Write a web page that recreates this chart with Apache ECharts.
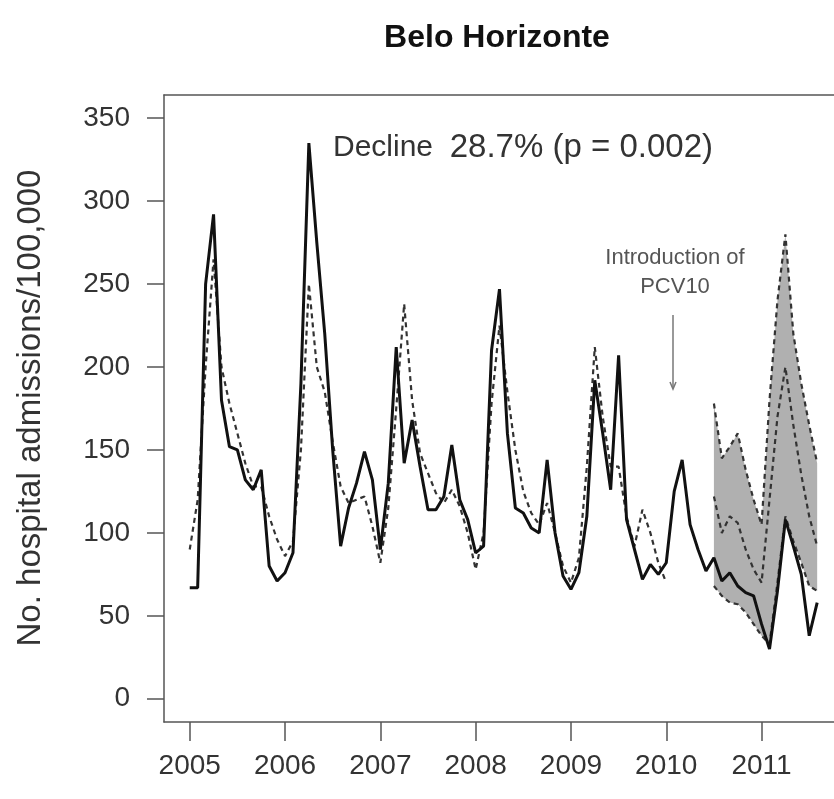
<!DOCTYPE html>
<html>
<head>
<meta charset="utf-8">
<script src="https://cdn.jsdelivr.net/npm/echarts@6/dist/echarts.min.js"></script>
<style>html,body{margin:0;padding:0;background:#fff}#c{width:834px;height:799px}</style>
</head>
<body>
<div id="c"></div>
<script>
// ---- data (monthly, starting Jan 2005) ----
const startYear = 2005;
const xTickYears = [2005, 2006, 2007, 2008, 2009, 2010, 2011];
const yTickValues = [0, 50, 100, 150, 200, 250, 300, 350];
const observed = [
  67, 67, 250, 292, 180, 152, 150, 132, 126, 138, 80, 71,
  76, 88, 190, 335, 275, 220, 150, 92, 115, 130, 149, 132,
  90, 130, 212, 142, 168, 140, 114, 114, 122, 153, 120, 108,
  88, 92, 210, 247, 160, 115, 112, 103, 100, 144, 100, 74,
  66, 76, 110, 192, 160, 126, 207, 108, 90, 72, 81, 75,
  82, 125, 144, 105, 90, 77, 85, 71, 76, 68, 64, 62,
  45, 30, 65, 108, 92, 75, 38, 58
];
const predicted = [
  90, 120, 200, 265, 200, 178, 160, 142, 128, 128, 110, 96,
  86, 95, 150, 250, 200, 185, 155, 128, 118, 120, 122, 104,
  82, 115, 175, 238, 180, 148, 136, 124, 118, 126, 116, 100,
  78, 100, 178, 225, 185, 150, 125, 112, 105, 118, 100, 80,
  70, 85, 140, 212, 170, 140, 140, 110, 92, 114, 100, 82,
  70, null, null, null, null, null, 122, 100, 110, 106, 90, 78,
  70, 120, 170, 200, 165, 135, 110, 92
];
const ciStartIndex = 66;
const upperCI = [178, 145, 152, 160, 138, 120, 105, 180, 240, 280, 220, 190, 165, 142];
const lowerCI = [68, 62, 58, 57, 52, 45, 38, 33, 70, 110, 95, 82, 68, 65];

// ---- build series data ----
const tx = i => startYear + i / 12;
const obsData = observed.map((v, i) => [tx(i), v]);
const predData = predicted.map((v, i) => [tx(i), v === null ? null : v]);
const upperData = upperCI.map((v, k) => [tx(ciStartIndex + k), v]);
const lowerData = lowerCI.map((v, k) => [tx(ciStartIndex + k), v]);

const FONT = '"Liberation Sans", Arial, Helvetica, sans-serif';
const AX = '#555';
const TXT = '#333';

const chart = echarts.init(document.getElementById('c'), null, {renderer: 'canvas'});
const dashStyle = {color: '#333', width: 2.2, type: [5, 4]};

chart.setOption({
  animation: false,
  backgroundColor: '#fff',
  grid: {left: 164, right: 0, top: 95, bottom: 77, show: false},
  xAxis: [
    {
      type: 'value', min: 2004.73, max: 2011.76, position: 'bottom',
      axisLine: {show: true, onZero: false, lineStyle: {color: AX, width: 1.5}},
      axisTick: {show: true, inside: false, length: 19, lineStyle: {color: AX, width: 1.5}, customValues: xTickYears},
      axisLabel: {show: true, margin: 30, fontFamily: FONT, fontSize: 28, color: TXT, customValues: xTickYears, formatter: v => String(Math.round(v))},
      splitLine: {show: false}
    },
    {
      type: 'value', min: 2004.73, max: 2011.76, position: 'top',
      axisLine: {show: true, onZero: false, lineStyle: {color: AX, width: 1.5}},
      axisTick: {show: false}, axisLabel: {show: false}, splitLine: {show: false}
    }
  ],
  yAxis: {
    type: 'value', min: -14, max: 364,
    axisLine: {show: true, onZero: false, lineStyle: {color: AX, width: 1.5}},
    axisTick: {show: true, inside: false, length: 17, lineStyle: {color: AX, width: 1.5}, customValues: yTickValues},
    axisLabel: {show: true, margin: 34, fontFamily: FONT, fontSize: 28, color: TXT, customValues: yTickValues},
    splitLine: {show: false}
  },
  series: [
    {
      type: 'custom', name: 'ci band', silent: true, z: 1,
      data: [[tx(ciStartIndex), upperCI[0]]],
      renderItem: function (params, api) {
        const pts = [];
        upperCI.forEach((v, k) => pts.push(api.coord([tx(ciStartIndex + k), v])));
        for (let k = lowerCI.length - 1; k >= 0; k--) pts.push(api.coord([tx(ciStartIndex + k), lowerCI[k]]));
        return {type: 'polygon', shape: {points: pts}, style: {fill: '#b0b0b0', stroke: null}};
      }
    },
    {type: 'line', name: 'upperLine', data: upperData, symbol: 'none', lineStyle: dashStyle, z: 2},
    {type: 'line', name: 'lowerLine', data: lowerData, symbol: 'none', lineStyle: dashStyle, z: 2},
    {type: 'line', name: 'predicted', data: predData, symbol: 'none', connectNulls: false, lineStyle: dashStyle, z: 3},
    {type: 'line', name: 'observed', data: obsData, symbol: 'none', lineStyle: {color: '#111', width: 3}, z: 4}
  ],
  graphic: [
    {type: 'text', x: 497, y: 38, style: {text: 'Belo Horizonte', font: 'bold 32px ' + FONT, fill: '#111', textAlign: 'center', textVerticalAlign: 'middle'}},
    {type: 'text', x: 31, y: 408, rotation: Math.PI / 2, style: {text: 'No. hospital admissions/100,000', font: '33px ' + FONT, fill: TXT, textAlign: 'center', textVerticalAlign: 'middle'}},
    {type: 'text', x: 333, y: 148, style: {
      text: '{a|Decline}  {b|28.7% (p = 0.002)}', textAlign: 'left', textVerticalAlign: 'middle',
      rich: {a: {font: '30px ' + FONT, fill: TXT}, b: {font: '33px ' + FONT, fill: TXT}},
      font: '30px ' + FONT, fill: TXT
    }},
    {type: 'text', x: 675, y: 258, style: {text: 'Introduction of', font: '22px ' + FONT, fill: '#555', textAlign: 'center', textVerticalAlign: 'middle'}},
    {type: 'text', x: 675, y: 287, style: {text: 'PCV10', font: '22px ' + FONT, fill: '#555', textAlign: 'center', textVerticalAlign: 'middle'}},
    {type: 'line', shape: {x1: 673, y1: 315, x2: 673, y2: 388}, style: {stroke: '#777', lineWidth: 1.5}},
    {type: 'polyline', shape: {points: [[670, 382], [673, 389], [676, 382]]}, style: {stroke: '#777', lineWidth: 1.5, fill: null}}
  ]
});
</script>
</body>
</html>
